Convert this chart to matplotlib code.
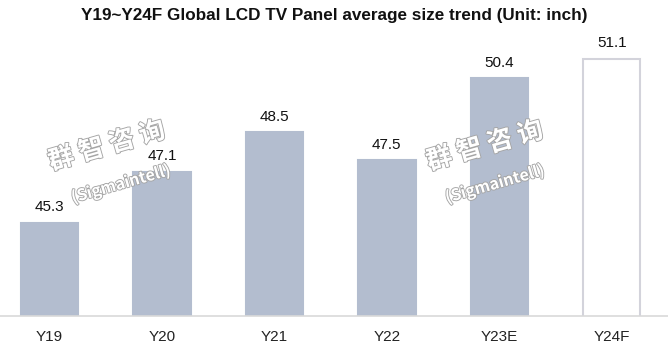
import matplotlib.pyplot as plt
import matplotlib.patheffects as pe

# Datos del gráfico
categorias = ['Y19', 'Y20', 'Y21', 'Y22', 'Y23E', 'Y24F']
valores = [45.3, 47.1, 48.5, 47.5, 50.4, 51.1]
etiquetas = ['45.3', '47.1', '48.5', '47.5', '50.4', '51.1']

plt.rcParams['font.family'] = ['Liberation Sans', 'DejaVu Sans']

fig = plt.figure(figsize=(6.68, 3.51), dpi=100)
ax = fig.add_axes([0, 0.0997, 1, 0.806])

colores = ['#B3BDCF'] * 5 + ['white']
bordes = ['#B3BDCF'] * 5 + ['#D3D3DB']
x = range(len(categorias))
ax.bar(x, valores, width=0.51, color=colores, edgecolor=bordes, linewidth=1.5, zorder=2)

for i, (v, t) in enumerate(zip(valores, etiquetas)):
    ax.annotate(t, (i, v), xytext=(0, 6), textcoords='offset points',
                ha='center', va='bottom', fontsize=11, color='#111111')

ax.set_xlim(-0.44, 5.5)
ax.set_ylim(42, 52)
ax.set_xticks(list(x))
ax.set_xticklabels(categorias, fontsize=11, color='#222222')
ax.tick_params(axis='x', length=0, pad=10)
ax.set_yticks([])
for s in ['top', 'left', 'right']:
    ax.spines[s].set_visible(False)
ax.spines['bottom'].set_color('#D9D9D9')
ax.spines['bottom'].set_linewidth(1.2)

fig.text(0.5, 0.955, 'Y19~Y24F Global LCD TV Panel average size trend (Unit: inch)',
         ha='center', va='center', fontsize=12.3, fontweight='bold', color='#111111')

# Marca de agua
efecto = [pe.withStroke(linewidth=1.3, foreground='#A5A5A5')]
for cx, sx in [(107, 121), (485, 495)]:
    fig.text(cx / 668, 1 - 146 / 351, '群 智 咨 询', ha='center', va='center', rotation=16,
             fontsize=18.5, fontweight='bold', color='white', family=['Noto Sans CJK SC'],
             path_effects=efecto, zorder=5)
    fig.text(sx / 668, 1 - 184 / 351, '(Sigmaintell)', ha='center', va='center', rotation=16,
             fontsize=11.5, fontweight='bold', color='white', family=['Noto Sans CJK SC'],
             path_effects=efecto, zorder=5)

fig.savefig('out.png', dpi=100)
